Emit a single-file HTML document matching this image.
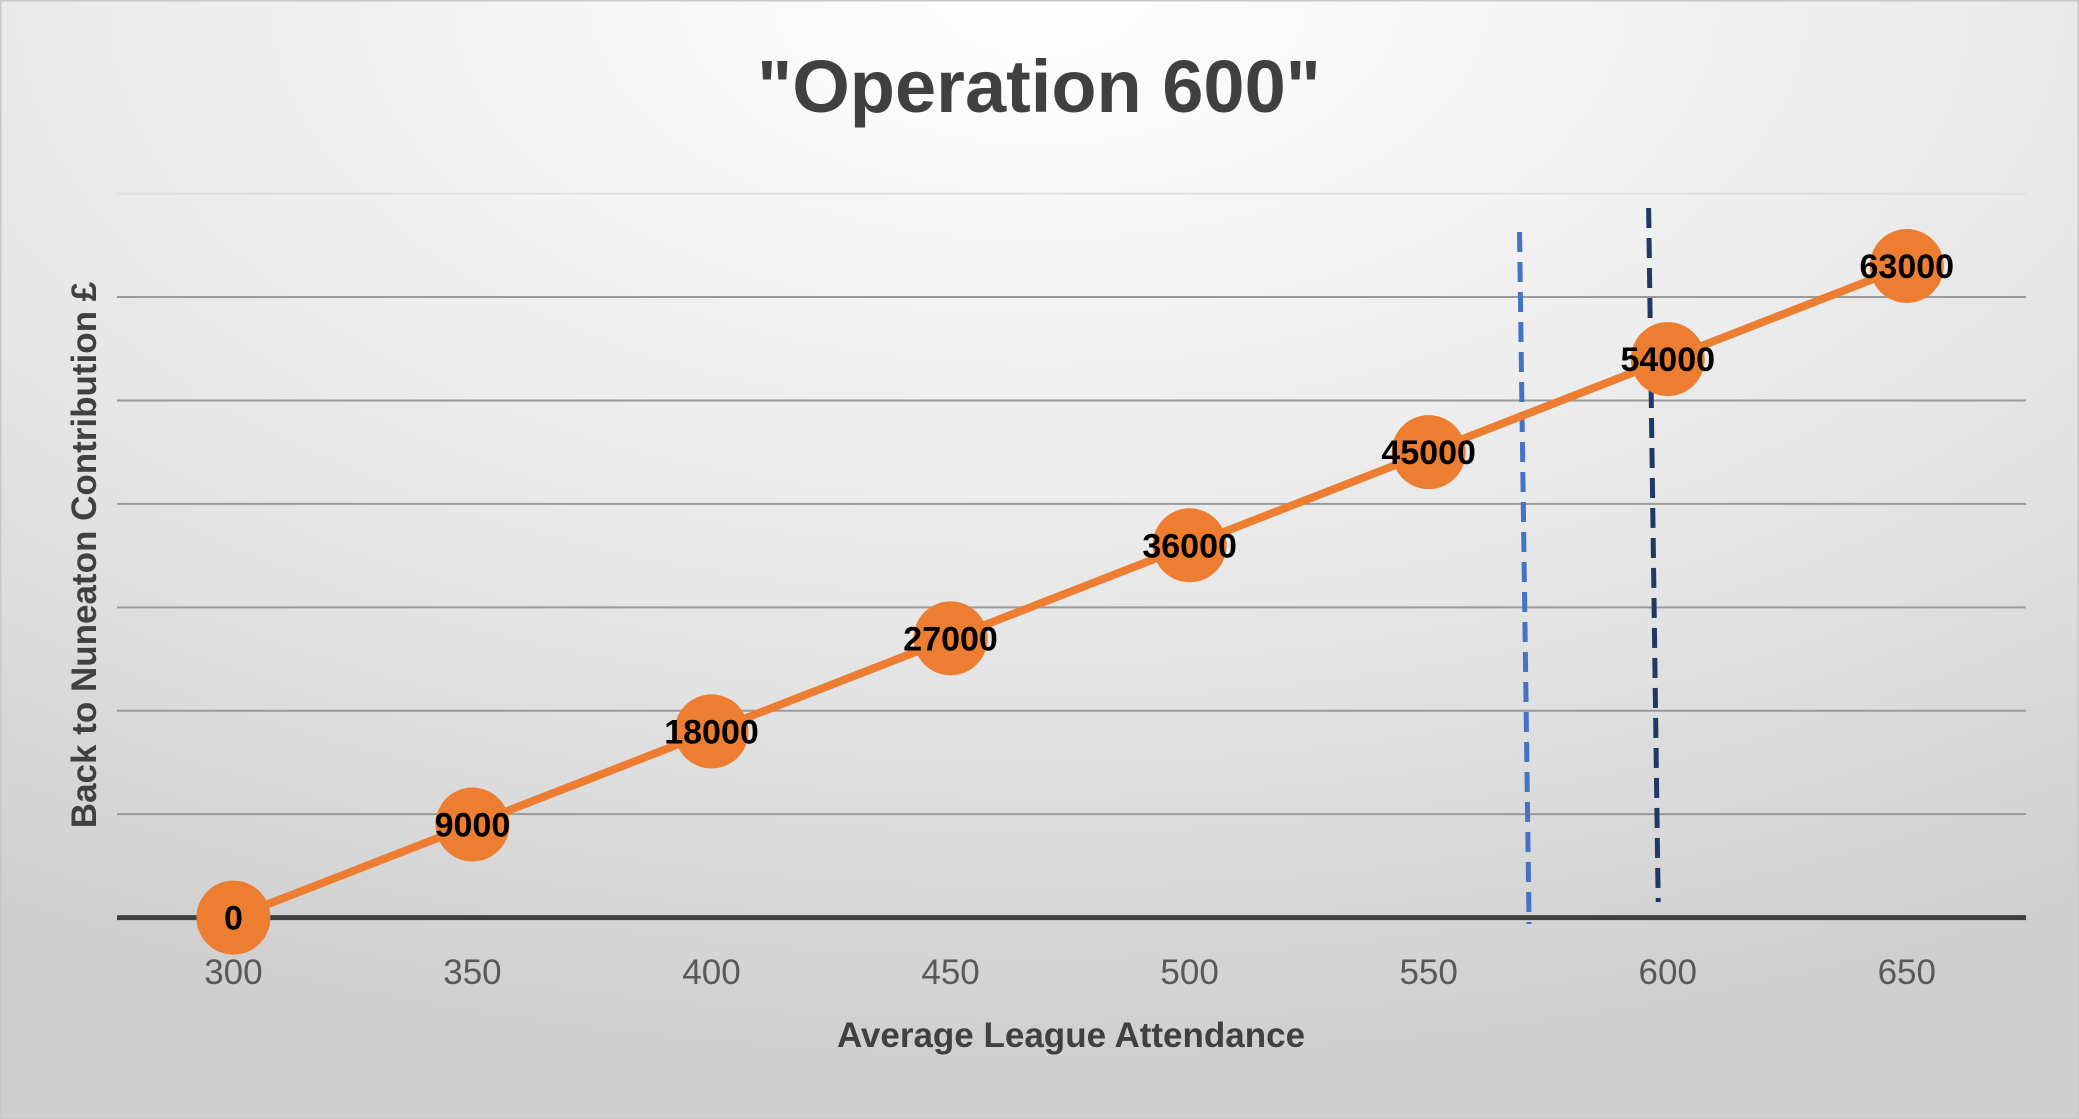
<!DOCTYPE html>
<html><head><meta charset="utf-8"><style>
html,body{margin:0;padding:0;width:2079px;height:1119px;overflow:hidden;}
svg{display:block;}
text{font-family:"Liberation Sans","DejaVu Sans",sans-serif;}
</style></head><body>
<svg id="chart" width="2079" height="1119">
<defs>
<radialGradient id="bg" cx="50%" cy="0%" r="95%" fx="50%" fy="0%">
<stop offset="0" stop-color="#ffffff"/><stop offset="0.6" stop-color="#e6e6e6"/><stop offset="1" stop-color="#cfcfcf"/>
</radialGradient>
</defs>
<rect x="0" y="0" width="2079" height="1119" fill="url(#bg)" stroke="#c8c8c8" stroke-width="3"/>
<text x="1039" y="112" text-anchor="middle" font-size="74" font-weight="bold" fill="#404040">"Operation 600"</text>
<g id="grid"></g>
<g id="xticks"></g>
<g id="refs"></g>
<g id="series"></g>
<text x="1071" y="1047" text-anchor="middle" font-size="35" font-weight="bold" fill="#404040">Average League Attendance</text>
<text transform="translate(96,555) rotate(-90)" text-anchor="middle" font-size="35" font-weight="bold" fill="#404040">Back to Nuneaton Contribution £</text>
</svg>
<script>
const categories=[300,350,400,450,500,550,600,650];
const values=[0,9000,18000,27000,36000,45000,54000,63000];
const yTicks=[0,10000,20000,30000,40000,50000,60000,70000];
const refLines=[{x1:569,x2:571,color:"#4472c4"},{x1:596,x2:598,color:"#1f3864"}];
const NS="http://www.w3.org/2000/svg";
const L=117,R=2026;
function xs(v){return 233.4+(v-300)*(1906.8-233.4)/350;}
function ys(v){return 917.6-v*(917.6-193.6)/70000;}
function mk(t,a,p){const e=document.createElementNS(NS,t);for(const k in a)e.setAttribute(k,a[k]);p.appendChild(e);return e;}
const grid=document.getElementById('grid');
yTicks.forEach(t=>{if(t===0)return;
const l=mk('line',{x1:L,x2:R,y1:ys(t),y2:ys(t),stroke:t===70000?'#e0e0e0':'#9a9a9a','stroke-width':2},grid);

});
const ax=mk('line',{x1:L,x2:R,y1:ys(0),y2:ys(0),stroke:'#404040','stroke-width':5},grid);


const xt=document.getElementById('xticks');
categories.forEach(c=>{const t=mk('text',{x:xs(c),y:984,'text-anchor':'middle','font-size':35,fill:'#595959'},xt);t.textContent=c;

});
const refs=document.getElementById('refs');
refLines.forEach(r=>{const l=mk('line',{x1:xs(r.x1),x2:xs(r.x2),y1:r.color==='#4472c4'?232:208,y2:r.color==='#4472c4'?924:902,stroke:r.color,'stroke-width':5,'stroke-dasharray':'20 10'},refs);

});
const s=document.getElementById('series');
const pts=categories.map((c,i)=>xs(c)+','+ys(values[i])).join(' ');
const pl=mk('polyline',{points:pts,fill:'none',stroke:'#ed7d31','stroke-width':8},s);


categories.forEach((c,i)=>{const m=mk('circle',{cx:xs(c),cy:ys(values[i]),r:37,fill:'#ed7d31'},s);

});
categories.forEach((c,i)=>{const t=mk('text',{x:xs(c),y:ys(values[i])+12,'text-anchor':'middle','font-size':34,'font-weight':'bold',fill:'#000'},s);t.textContent=values[i];

});
</script>
</body></html>
